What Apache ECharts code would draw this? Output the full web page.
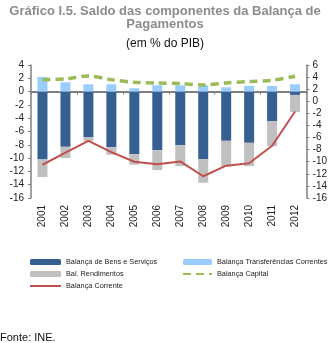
<!DOCTYPE html>
<html>
<head>
<meta charset="utf-8">
<script src="https://cdn.jsdelivr.net/npm/echarts@6/dist/echarts.min.js"></script>
<style>
html,body{margin:0;padding:0;background:#fff;}
#c{width:330px;height:343px;}
</style>
</head>
<body>
<div id="c"></div>
<script>
var years = ['2001','2002','2003','2004','2005','2006','2007','2008','2009','2010','2011','2012'];
var bensServicos = [-10.2, -8.3, -6.85, -8.35, -9.4, -8.8, -8.05, -10.15, -7.4, -7.7, -4.45, -0.5];
var rendimentos = [-2.65, -1.7, -0.6, -1.15, -1.6, -3.0, -3.15, -3.55, -3.9, -3.5, -3.75, -2.55];
var transferencias = [2.2, 1.4, 1.1, 1.1, 0.5, 0.95, 0.95, 0.95, 0.65, 0.85, 0.85, 1.1];
var capital = [1.8, 1.9, 2.35, 1.8, 1.4, 1.3, 1.2, 1.0, 1.3, 1.5, 1.7, 2.3];
var corrente = [-10.5, -8.5, -6.55, -8.4, -10.0, -10.4, -9.95, -12.4, -10.65, -10.25, -7.35, -1.7];
var leftTicks = {min: -16, max: 4, interval: 2};
var rightTicks = {min: -16, max: 6, interval: 2};

var chart = echarts.init(document.getElementById('c'), null, {renderer: 'canvas'});
var axisGray = '#808080';
var legendFont = {fontFamily: '"Liberation Sans Narrow", "Liberation Sans", Arial, sans-serif', fontSize: 7.3, color: '#222', lineHeight: 12};
chart.setOption({
  animation: false,
  title: [
    {text: 'Gráfico I.5. Saldo das componentes da Balança de\nPagamentos', left: 'center', top: 0,
     textStyle: {fontFamily: 'Liberation Sans, Arial, sans-serif', fontSize: 13, fontWeight: 'bold', color: '#8c8c8c', lineHeight: 13}},
    {text: '(em % do PIB)', left: 'center', top: 33,
     textStyle: {fontFamily: 'Liberation Sans, Arial, sans-serif', fontSize: 12, fontWeight: 'normal', color: '#111'}},
    {text: 'Fonte: INE.', left: 0, top: 332, padding: 0,
     textStyle: {fontFamily: 'Liberation Sans, Arial, sans-serif', fontSize: 11, fontWeight: 'normal', color: '#111', lineHeight: 11}}
  ],
  grid: {left: 31, right: 23, top: 65, bottom: 145},
  legend: [
    {orient: 'vertical', left: 29, top: 256, padding: 0, itemWidth: 31, itemHeight: 6, itemGap: 0,
     data: ['Balança de Bens e Serviços', 'Bal. Rendimentos', {name: 'Balança Corrente', itemStyle: {opacity: 0}}],
     textStyle: legendFont, selectedMode: false},
    {orient: 'vertical', left: 182, top: 256, padding: 0, itemWidth: 29, itemHeight: 6, itemGap: 0,
     data: ['Balança Transferências Correntes', {name: 'Balança Capital', itemStyle: {opacity: 0}}],
     textStyle: legendFont, selectedMode: false}
  ],
  xAxis: [
    {type: 'category', data: years, position: 'bottom',
     axisLine: {show: false, onZero: false}, axisTick: {show: false},
     axisLabel: {rotate: 90, margin: 7, fontSize: 10, color: '#222', fontFamily: 'Liberation Sans, Arial, sans-serif'}},
    {type: 'category', data: years, position: 'bottom',
     axisLine: {show: true, onZero: true, onZeroAxisIndex: 0, lineStyle: {color: axisGray, width: 2}},
     axisTick: {show: true, length: 3, lineStyle: {color: axisGray}}, axisLabel: {show: false}}
  ],
  yAxis: [
    {type: 'value', min: leftTicks.min, max: leftTicks.max, interval: leftTicks.interval,
     axisLine: {show: true, lineStyle: {color: axisGray, width: 1.5}},
     axisTick: {show: true, length: 3, lineStyle: {color: axisGray}},
     splitLine: {show: false},
     axisLabel: {margin: 7, fontSize: 10, color: '#222', fontFamily: 'Liberation Sans, Arial, sans-serif'}},
    {type: 'value', min: rightTicks.min, max: rightTicks.max, interval: rightTicks.interval, position: 'right',
     axisLine: {show: true, lineStyle: {color: axisGray, width: 1.5}},
     axisTick: {show: true, length: 3, lineStyle: {color: axisGray}},
     splitLine: {show: false},
     axisLabel: {margin: 6, fontSize: 10, color: '#222', fontFamily: 'Liberation Sans, Arial, sans-serif'}}
  ],
  series: [
    {name: 'Balança de Bens e Serviços', type: 'bar', stack: 'bp', data: bensServicos, barWidth: 10,
     itemStyle: {color: '#376092'}},
    {name: 'Bal. Rendimentos', type: 'bar', stack: 'bp', data: rendimentos, barWidth: 10,
     itemStyle: {color: '#c0c0c0'}},
    {name: 'Balança Transferências Correntes', type: 'bar', stack: 'bp', data: transferencias, barWidth: 10,
     itemStyle: {color: '#99ccff'}},
    {name: 'Balança Capital', type: 'line', data: capital, yAxisIndex: 0, smooth: 0.3,
     symbol: 'none', showSymbol: false, z: 5,
     lineStyle: {color: '#9bbb59', width: 3.5, type: [8, 5]}, itemStyle: {color: '#9bbb59'}},
    {name: 'Balança Corrente', type: 'line', data: corrente, yAxisIndex: 1,
     symbol: 'none', showSymbol: false, z: 6,
     lineStyle: {color: '#c0504d', width: 2}, itemStyle: {color: '#c0504d'}}
  ]
});
</script>
</body>
</html>
